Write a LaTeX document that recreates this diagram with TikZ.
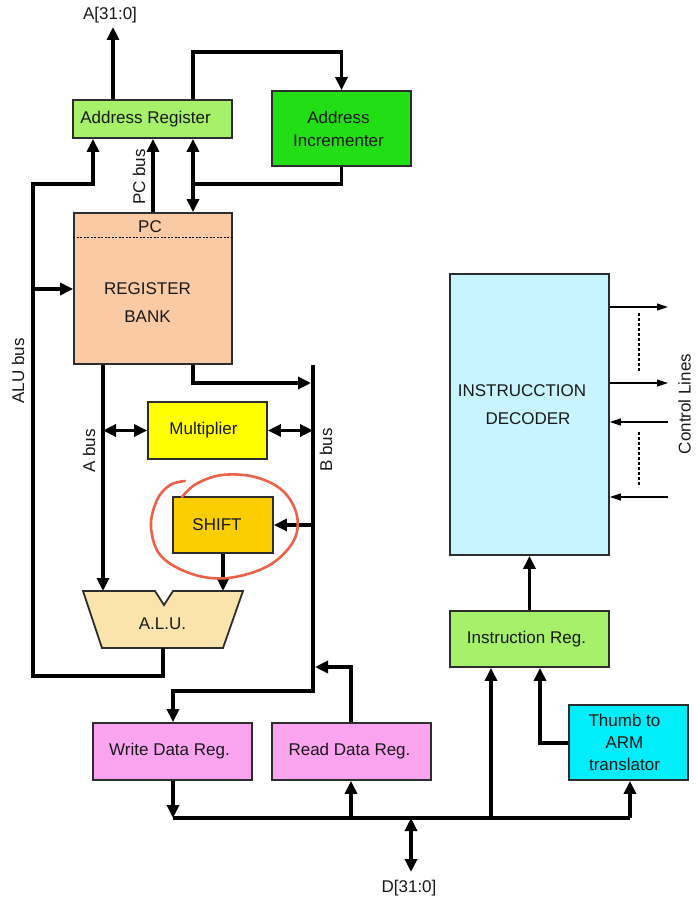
\documentclass[tikz,border=0pt]{standalone}
\usepackage{fontspec}
\setmainfont{Liberation Sans}
\usetikzlibrary{arrows.meta}

\definecolor{boxline}{RGB}{45,45,45}
\definecolor{txt}{RGB}{25,25,25}
\definecolor{regGreen}{RGB}{166,240,106}
\definecolor{incGreen}{RGB}{34,222,20}
\definecolor{bankPeach}{RGB}{250,202,164}
\definecolor{mulYellow}{RGB}{255,255,0}
\definecolor{shiftOrange}{RGB}{250,206,0}
\definecolor{aluTan}{RGB}{250,228,172}
\definecolor{dataPink}{RGB}{250,164,240}
\definecolor{thumbCyan}{RGB}{0,238,250}
\definecolor{decCyan}{RGB}{200,244,255}
\definecolor{markRed}{RGB}{236,98,72}

\begin{document}
\begin{tikzpicture}[x=1pt,y=-1pt,
  font=\fontsize{17}{23}\selectfont,
  >={Triangle[length=13pt,width=12pt]},
  blk/.style={draw=boxline, line width=1.8pt, inner sep=0pt, text=txt, align=center},
  bus/.style={line width=3.5pt, draw=black},
  ctl/.style={line width=1.1pt, draw=black, -{Triangle[length=11pt,width=7pt]}},
  ctldash/.style={line width=2pt, dash pattern=on 3pt off 2pt},
  lbl/.style={text=txt, inner sep=0pt, align=center},
  vlbl/.style={text=txt, inner sep=0pt, rotate=90}]

% canvas
\fill[white] (0,0) rectangle (696,899);
\useasboundingbox (0,0) rectangle (696,899);

% ---------- blocks ----------
\node[blk, fill=regGreen, minimum width=159pt, minimum height=38pt,
      label={[lbl, xshift=-7pt]center:Address Register}] (ar) at (152.5,119) {};
\node[blk, fill=incGreen, minimum width=139pt, minimum height=75pt] (ai) at (341.5,128.5)
      {\hspace*{-6pt}Address\\[0pt]\hspace*{-6pt}Incrementer};
\node[blk, fill=bankPeach, minimum width=158pt, minimum height=151pt] (rb) at (153,288.5) {};
\draw[line width=0.8pt, dash pattern=on 2pt off 1.5pt] (rb.west |- 0,237) -- (rb.east |- 0,237);
\node[lbl] (pc) at (150,227) {PC};
\node[lbl] (rbtxt) at (147.5,303) {REGISTER\\[5pt]BANK};
\node[blk, fill=mulYellow, minimum width=119pt, minimum height=57pt,
      label={[lbl, xshift=-4pt]center:Multiplier}] (mul) at (207.5,430.5) {};
\node[blk, fill=shiftOrange, minimum width=100pt, minimum height=56pt,
      label={[lbl, xshift=-6pt]center:SHIFT}] (sh) at (223,525) {};

% ALU: trapezoid with an input notch
\draw[draw=boxline, fill=aluTan, line width=1.8pt, line join=miter]
  (83,591) -- (155,591) -- (164,605) -- (173,591) -- (243,591)
  -- (223,648) -- (102,648) -- cycle;
\node[lbl] (alu) at (162.5,624) {A.L.U.};
\coordinate (aluout) at (163,648);
\coordinate (aluinA) at (103,591);
\coordinate (aluinB) at (223,591);

\node[blk, fill=decCyan, minimum width=159pt, minimum height=281pt] (dec) at (529.5,414.5) {};
\node[lbl] (dectxt) at (522,405) {INSTRUCCTION\\[5pt]\hspace*{12pt}DECODER};
\node[blk, fill=regGreen, minimum width=159pt, minimum height=56pt,
      label={[lbl, xshift=-3pt]center:Instruction Reg.}] (ir) at (529.5,639) {};
\node[blk, fill=dataPink, minimum width=159pt, minimum height=57pt,
      label={[lbl, xshift=-3pt]center:Write Data Reg.}] (wdr) at (172.5,751.5) {};
\node[blk, fill=dataPink, minimum width=159pt, minimum height=57pt,
      label={[lbl, xshift=-2pt]center:Read Data Reg.}] (rdr) at (351.5,751.5) {};
\node[blk, fill=thumbCyan, minimum width=119pt, minimum height=75pt] (th) at (628.5,742.5)
      {\hspace*{-8pt}Thumb to\\[-1pt]\hspace*{-8pt}ARM\\[-1pt]\hspace*{-8pt}translator};

% ---------- bus junctions ----------
\coordinate (aout)  at (113,27);
\coordinate (loopT) at (193,52);
\coordinate (incJ)  at (193,184);
\coordinate (pcx)   at (153,0);
\coordinate (aluJ)  at (33,184);
\coordinate (aluL)  at (33,676);
\coordinate (aluRB) at (33,289);
\coordinate (abx)   at (103,0);
\coordinate (bbT)   at (313,365);
\coordinate (bbRB)  at (311,383);
\coordinate (bbM)   at (313,430.5);
\coordinate (bbS)   at (313,525);
\coordinate (bbW)   at (313,691);
\coordinate (bbR)   at (315,667);
\coordinate (dL)    at (173,818);
\coordinate (dR)    at (630,818);
\coordinate (dD)    at (411,818);
\coordinate (dout)  at (411,872);

% ---------- address side ----------
\draw[bus,->] (aout |- ar.north) -- (aout);
\draw[bus,->] (loopT |- ar.north) -- (loopT) -| (ai.north);
\draw[bus] (ai.south) |- (incJ);
\draw[bus,<->] (incJ |- ar.south) -- (incJ |- rb.north);
\draw[bus,->] (pcx |- rb.north) -- (pcx |- ar.south);
\node[vlbl] (pclbl) at (139,177) {PC bus};

% ALU bus
\draw[bus,->] (aluout) |- (aluL) -- (aluJ) -| (ar.south -| 93,0);
\draw[bus,->] (aluRB) -- (rb.west |- aluRB);
\node[vlbl] (alulbl) at (18,371) {ALU bus};

% A bus and B bus
\draw[bus,->] (abx |- rb.south) -- (aluinA);
\node[vlbl] (ablbl) at (89,451) {A bus};
\draw[bus,->] (incJ |- rb.south) |- (bbRB);
\draw[bus,->] (bbT) -- (bbW) -| (wdr.north -| dL);
\node[vlbl] (bblbl) at (326,450) {B bus};

\draw[bus,<->] (abx |- mul.west) -- (mul.west);
\draw[bus,<->] (mul.east) -- (bbM);
\draw[bus,->] (bbS) -- (sh.east);
\draw[bus,->] (sh.south -| aluinB) -- (aluinB);

% ---------- data side ----------
\draw[bus,->] (rdr.north -| 351,0) |- (bbR);
\draw[bus,->] (wdr.south -| dL) -- (dL);
\draw[bus] (dL) -- (dR);
\draw[bus,->] (351,818) -- (rdr.south -| 351,0);
\draw[bus,->] (491,818) -- (ir.south -| 491,0);
\draw[bus,->] (dR) -- (th.south -| dR);
\draw[bus,->] (th.west |- 0,743) -| (ir.south -| 540,0);
\draw[bus,->] (ir.north -| dec.south) -- (dec.south);
\draw[bus,<->] (dD) -- (dout);
\node[lbl] (dlbl) at (409,888) {D[31:0]};
\node[lbl] (albl) at (110,15) {A[31:0]};

% ---------- control lines ----------
\coordinate (cx) at (668,0);
\draw[ctl] (dec.east |- 0,307) -- (cx |- 0,307);
\draw[ctl] (dec.east |- 0,383) -- (cx |- 0,383);
\draw[ctl] (cx |- 0,422) -- (dec.east |- 0,422);
\draw[ctl] (cx |- 0,497) -- (dec.east |- 0,497);
\draw[ctldash] (639,313) -- (639,373);
\draw[ctldash] (639,432) -- (639,487);
\node[vlbl, anchor=north] (ctllbl) at (678,404) {Control Lines};

% ---------- hand-drawn mark around the shifter ----------
\draw[markRed, line width=2.6pt, line cap=round]
  plot[smooth, tension=0.6] coordinates {
    (185,481) (170,485) (157,500) (151,527) (161,556) (192,574) (228,578)
    (268,566) (293,542) (297,516) (283,491) (255,477) (222,475) (196,484) (182,497)};

\end{tikzpicture}
\end{document}
